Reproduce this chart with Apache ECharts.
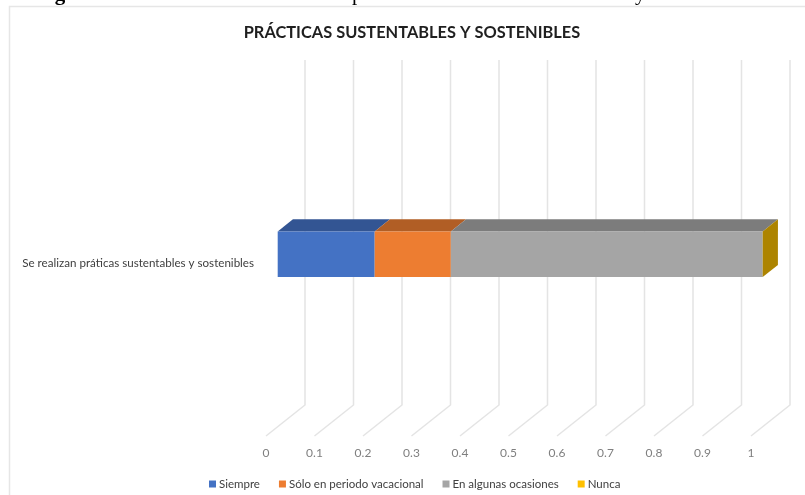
<!DOCTYPE html>
<html><head><meta charset="utf-8">
<style>html,body{margin:0;padding:0;background:#fff}#c{width:805px;height:495px}</style>
<script src="https://cdn.jsdelivr.net/npm/echarts@6/dist/echarts.min.js"></script>
</head><body><div id="c"></div>
<script>
var categories = ['Se realizan práticas sustentables y sostenibles'];
var ticks = [0, 0.1, 0.2, 0.3, 0.4, 0.5, 0.6, 0.7, 0.8, 0.9, 1];
var siempre = [0.2];
var vacacional = [0.157];
var ocasiones = [0.643];
var nunca = [0];
var names = ['Siempre', 'Sólo en periodo vacacional', 'En algunas ocasiones', 'Nunca'];
var colors = ['#4472C4', '#ED7D31', '#A5A5A5', '#FFC000'];
var topColors = ['#335593', '#B15E25', '#7C7C7C', '#BF9000'];
var sideColor = '#AD8400';
var lists = [siempre, vacacional, ocasiones, nunca];

var WALL_DX = 39, WALL_DY = -31;      // floor depth of the pseudo-3D box
var NEAR = 0.3, FAR = 0.69;           // bar position within that depth

function barItem(idx) {
  return function (params, api) {
    var start = 0;
    for (var i = 0; i < idx; i++) start += lists[i][params.dataIndex];
    var v = lists[idx][params.dataIndex];
    var a = api.coord([start, params.dataIndex]);
    var b = api.coord([start + v, params.dataIndex]);
    var h = api.size([0, 1])[1] * 0.132;
    var ox = WALL_DX * NEAR, oy = WALL_DY * NEAR;
    var dx = WALL_DX * (FAR - NEAR), dy = WALL_DY * (FAR - NEAR);
    var x0 = a[0] + ox, x1 = b[0] + ox, y0 = a[1] + oy - h / 2, y1 = y0 + h;
    var kids = [];
    if (v > 0) {
      kids.push({ type: 'polygon', shape: { points: [[x0, y0], [x0 + dx, y0 + dy], [x1 + dx, y0 + dy], [x1, y0]] }, style: { fill: topColors[idx] } });
      kids.push({ type: 'rect', shape: { x: x0, y: y0, width: x1 - x0, height: h }, style: { fill: colors[idx] } });
    }
    if (idx === 3) {
      kids.push({ type: 'polygon', shape: { points: [[x1, y0], [x1 + dx, y0 + dy], [x1 + dx, y1 + dy], [x1, y1]] }, style: { fill: sideColor } });
    }
    return { type: 'group', children: kids };
  };
}

function gridItem(params, api) {
  var p = api.coord([api.value(0), 0]);
  var rectTop = params.coordSys.y, rectBottom = params.coordSys.y + params.coordSys.height;
  var st = { stroke: '#E4E4E4', lineWidth: 1.5, fill: 'none' };
  return { type: 'polyline', shape: { points: [[p[0], rectBottom], [p[0] + WALL_DX, rectBottom + WALL_DY], [p[0] + WALL_DX, rectTop + WALL_DY]] }, style: st };
}

var series = [{
  type: 'custom', name: 'grid3d', silent: true, z: 1, renderItem: gridItem,
  data: ticks.map(function (t) { return [t]; }), encode: { x: 0 }
}];
names.forEach(function (n, i) {
  series.push({
    type: 'custom', name: n, z: 2 + (i === 3 ? 1 : 0), renderItem: barItem(i),
    itemStyle: { color: colors[i] },
    data: lists[i].map(function (v, k) { return [v, k]; })
  });
});

var chart = echarts.init(document.getElementById('c'), null, { renderer: 'canvas' });
chart.setOption({
  animation: false,
  backgroundColor: '#fff',
  title: {
    text: 'PRÁCTICAS SUSTENTABLES Y SOSTENIBLES', left: 407, top: 20, textAlign: 'center',
    textStyle: { fontFamily: 'Lato', fontSize: 16.4, fontWeight: 'bold', color: '#1f1f1f' }
  },
  legend: {
    data: names, left: 204, top: 473, itemWidth: 7, itemHeight: 7, itemGap: 19, icon: 'rect',
    textStyle: { fontFamily: 'Lato', fontSize: 11.5, color: '#404040', padding: [0, 0, 0, -2] }
  },
  grid: { left: 266, right: 54, top: 91, bottom: 59, containLabel: false },
  xAxis: {
    type: 'value', min: 0, max: 1, interval: 0.1,
    axisLine: { show: false }, axisTick: { show: false }, splitLine: { show: false },
    axisLabel: { color: '#7F7F7F', fontFamily: 'Lato', fontSize: 12, margin: 11, showMinLabel: true, showMaxLabel: true,
      formatter: function (v) { return String(+v.toFixed(1)); } }
  },
  yAxis: {
    type: 'category', data: categories,
    axisLine: { show: false }, axisTick: { show: false }, splitLine: { show: false },
    axisLabel: { color: '#404040', fontFamily: 'Lato', fontSize: 11.6, margin: 12, padding: [4, 0, 0, 0] }
  },
  graphic: [
    { type: 'rect', silent: true, z: 0, shape: { x: 9.5, y: 6.5, width: 810, height: 500 }, style: { fill: 'none', stroke: '#E6E6E6', lineWidth: 1.5 } },
    { type: 'text', silent: true, z: 5, left: 36, top: -16, style: { text: 'Figura', fontFamily: 'Liberation Serif', fontWeight: 'bold', fontSize: 21, fill: '#000' } },
    { type: 'text', silent: true, z: 5, left: 352, top: -16, style: { text: 'p', fontFamily: 'Liberation Serif', fontSize: 21, fill: '#000' } },
    { type: 'text', silent: true, z: 5, left: 635, top: -16, style: { text: 'y', fontFamily: 'Liberation Serif', fontSize: 21, fill: '#000' } }
  ],
  series: series
});
</script></body></html>
